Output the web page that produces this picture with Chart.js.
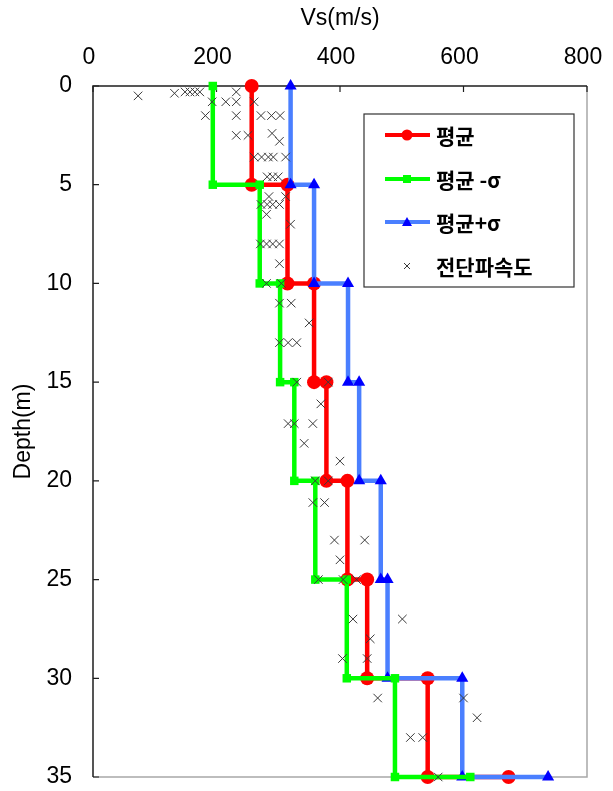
<!DOCTYPE html>
<html>
<head>
<meta charset="utf-8">
<script src="https://cdn.jsdelivr.net/npm/chart.js@4.4.1/dist/chart.umd.min.js"></script>
<style>
  html, body { margin: 0; padding: 0; background: #ffffff; overflow: hidden; }
  #wrap { width: 613px; height: 791px; position: relative; }
  canvas { display: block; }
</style>
</head>
<body>
<div id="wrap"><canvas id="c"></canvas></div>
<script>
// Layer boundaries (m) and layer-averaged shear-wave velocity profiles (m/s).
// Index i is the value for the layer starting at layerTops[i]; the last entry sits at 35 m.
const layerTops    = [0, 5, 10, 15, 20, 25, 30, 35];
const meanVs       = [257, 315, 358, 378, 412, 444, 542, 673];
const minusSigmaVs = [194, 270, 303, 326, 360, 411, 489, 611];
const plusSigmaVs  = [320, 358, 413, 431, 466, 477, 598, 737];

// Individual shear-wave velocity measurements: depth (m) and Vs (m/s), paired by index.
const sampleDepth = [
  0.3, 0.3, 0.3, 0.3, 0.3, 0.37, 0.5,
  0.8, 0.8, 0.8, 0.8,
  1.5, 1.5, 1.5, 1.5, 1.5,
  2.4, 2.5, 2.5, 2.8,
  3.6, 3.6, 3.6, 3.6, 3.6,
  4.6, 4.6, 4.6,
  5.6, 5.6,
  6.0, 6.0, 6.0, 6.0,
  6.5, 7.0,
  8.0, 8.0, 8.0, 8.0,
  9.0, 10.0, 10.0,
  11.0, 11.0, 12.0,
  13.0, 13.0, 13.0,
  15.0, 15.0, 16.1,
  17.1, 17.1, 17.1,
  18.1, 19.0, 20.0, 20.0,
  21.1, 21.1, 23.0, 23.0, 24.0,
  25.0, 25.0, 25.0,
  27.0, 27.0, 28.0, 29.0, 29.0,
  31.0, 31.0, 32.0, 33.0, 33.0, 35.0
];
const sampleVs = [
  149, 157, 165, 173, 232, 132, 73,
  193, 215, 232, 261,
  182, 232, 272, 289, 303,
  290, 232, 251, 302,
  261, 273, 284, 292, 312,
  282, 291, 300,
  285, 312,
  272, 282, 291, 302,
  281, 320,
  271, 281, 291, 302,
  302, 281, 305,
  302, 321, 350,
  302, 316, 330,
  330, 381, 369,
  316, 326, 356,
  342, 400, 360, 381,
  356, 375, 391, 440, 400,
  365, 405, 427,
  421, 501, 449, 404, 444,
  461, 600, 622, 514, 534, 559
];

// Axis ranges and labels
const vsRange    = [0, 800];
const vsStep     = 200;
const depthRange = [0, 35];
const depthStep  = 5;
const seriesNames = ['평균', '평균 -σ', '평균+σ', '전단파속도'];
const xTitle = 'Vs(m/s)';
const yTitle = 'Depth(m)';

// Turn a per-layer profile into the points of a stepped line.
function stepProfile(values) {
  const pts = [];
  for (let i = 0; i < layerTops.length - 1; i++) {
    pts.push({ x: values[i], y: layerTops[i] });
    pts.push({ x: values[i], y: layerTops[i + 1] });
  }
  const last = layerTops.length - 1;
  pts.push({ x: values[last], y: layerTops[last] });
  return pts;
}

const samplePoints = sampleDepth.map((d, i) => ({ x: sampleVs[i], y: d }));

const LATIN = "'Liberation Sans', Arial, sans-serif";
const HANGUL = "'Noto Sans CJK KR', 'Noto Sans', sans-serif";

// Plot frame with inward tick marks
const frameAndTicks = {
  id: 'frameAndTicks',
  beforeDatasetsDraw(chart) {
    const { ctx, chartArea: a, scales } = chart;
    const xs = scales.x, ys = scales.y;
    ctx.save();
    ctx.lineWidth = 1.5;
    ctx.strokeStyle = '#a8a8a8';
    ctx.beginPath();
    ctx.moveTo(a.left, a.bottom);
    ctx.lineTo(a.right, a.bottom);
    ctx.lineTo(a.right, a.top);
    ctx.stroke();
    ctx.strokeStyle = '#1e1e1e';
    ctx.beginPath();
    ctx.moveTo(a.left, a.bottom);
    ctx.lineTo(a.left, a.top);
    ctx.lineTo(a.right, a.top);
    ctx.stroke();
    ctx.lineWidth = 1.2;
    ctx.beginPath();
    xs.ticks.forEach(t => {
      const px = xs.getPixelForValue(t.value);
      ctx.moveTo(px, a.top);
      ctx.lineTo(px, a.top + 6);
    });
    ys.ticks.forEach(t => {
      const py = ys.getPixelForValue(t.value);
      ctx.moveTo(a.left, py);
      ctx.lineTo(a.left + 6, py);
    });
    ctx.stroke();
    ctx.restore();
  }
};

// Boxed legend inside the upper-right of the plot
const insideLegend = {
  id: 'insideLegend',
  afterDatasetsDraw(chart) {
    const { ctx, chartArea: a } = chart;
    const bx = a.left + 271, by = a.top + 28, bw = 210, bh = 173;
    ctx.save();
    ctx.fillStyle = '#ffffff';
    ctx.fillRect(bx, by, bw, bh);
    ctx.lineWidth = 1.2;
    ctx.strokeStyle = '#333333';
    ctx.strokeRect(bx, by, bw, bh);
    const rowY = [21, 65, 108, 152];
    chart.data.datasets.forEach((ds, i) => {
      const cy = by + rowY[i];
      const x0 = bx + 21, x1 = bx + 66, mx = bx + 43;
      if (ds.showLine) {
        ctx.strokeStyle = ds.borderColor;
        ctx.lineWidth = 4;
        ctx.beginPath();
        ctx.moveTo(x0, cy);
        ctx.lineTo(x1, cy);
        ctx.stroke();
      }
      ctx.fillStyle = ds.pointBackgroundColor;
      ctx.strokeStyle = ds.pointBorderColor;
      if (ds.pointStyle === 'circle') {
        ctx.beginPath();
        ctx.arc(mx, cy, 5.5, 0, Math.PI * 2);
        ctx.fill();
      } else if (ds.pointStyle === 'rect') {
        ctx.fillRect(mx - 4, cy - 4, 8, 8);
      } else if (ds.pointStyle === 'triangle') {
        ctx.beginPath();
        ctx.moveTo(mx, cy - 5);
        ctx.lineTo(mx + 5, cy + 4);
        ctx.lineTo(mx - 5, cy + 4);
        ctx.closePath();
        ctx.fill();
      } else {
        ctx.lineWidth = 1;
        ctx.beginPath();
        ctx.moveTo(mx - 3, cy - 3); ctx.lineTo(mx + 3, cy + 3);
        ctx.moveTo(mx + 3, cy - 3); ctx.lineTo(mx - 3, cy + 3);
        ctx.stroke();
      }
      ctx.fillStyle = '#000000';
      ctx.font = 'bold 21px ' + HANGUL;
      ctx.textAlign = 'left';
      ctx.textBaseline = 'middle';
      ctx.fillText(ds.label, bx + 72, cy + 1);
    });
    ctx.restore();
  }
};

function profileDataset(label, values, lineColor, markerColor, style, radius, order) {
  return {
    label,
    data: stepProfile(values),
    showLine: true,
    borderColor: lineColor,
    borderWidth: 4.5,
    backgroundColor: markerColor,
    pointBackgroundColor: markerColor,
    pointBorderColor: markerColor,
    pointBorderWidth: 0,
    pointStyle: style,
    pointRadius: radius,
    pointHoverRadius: radius,
    tension: 0,
    clip: false,
    order
  };
}

new Chart(document.getElementById('c'), {
  type: 'scatter',
  data: {
    datasets: [
      profileDataset(seriesNames[0], meanVs, '#ff0000', '#ff0000', 'circle', 7, 4),
      profileDataset(seriesNames[1], minusSigmaVs, '#00ff00', '#00ff00', 'rect', 6, 2),
      profileDataset(seriesNames[2], plusSigmaVs, '#4a7fff', '#0000ff', 'triangle', 7, 3),
      {
        label: seriesNames[3],
        data: samplePoints,
        showLine: false,
        pointStyle: 'crossRot',
        pointRadius: 6,
        pointHoverRadius: 6,
        pointBorderWidth: 1,
        pointBorderColor: '#3a3a3a',
        pointBackgroundColor: '#3a3a3a',
        borderColor: '#3a3a3a',
        clip: false,
        order: 1
      }
    ]
  },
  options: {
    responsive: true,
    maintainAspectRatio: false,
    animation: false,
    events: [],
    layout: { padding: { left: 0, top: 0, right: 26, bottom: 14 } },
    plugins: { legend: { display: false }, tooltip: { enabled: false } },
    scales: {
      x: {
        type: 'linear',
        position: 'top',
        min: vsRange[0],
        max: vsRange[1],
        grid: { display: false, drawTicks: false },
        border: { display: false },
        ticks: {
          stepSize: vsStep,
          padding: 15,
          labelOffset: -4,
          color: '#000000',
          font: { family: LATIN, size: 23 }
        },
        title: {
          display: true,
          text: xTitle,
          color: '#000000',
          font: { family: LATIN, size: 23 },
          padding: { top: 5, bottom: 0 }
        },
        afterFit(scale) {
          scale.height = 86;
          scale.paddingLeft = 0;
          scale.paddingRight = 0;
        }
      },
      y: {
        type: 'linear',
        reverse: true,
        min: depthRange[0],
        max: depthRange[1],
        grid: { display: false, drawTicks: false },
        border: { display: false },
        ticks: {
          stepSize: depthStep,
          padding: 21,
          color: '#000000',
          font: { family: LATIN, size: 23 }
        },
        title: {
          display: true,
          text: yTitle,
          color: '#000000',
          font: { family: LATIN, size: 23 },
          padding: { top: 10, bottom: 0 }
        },
        afterFit(scale) {
          scale.width = 93;
          scale.paddingTop = 0;
          scale.paddingBottom = 0;
        }
      }
    }
  },
  plugins: [frameAndTicks, insideLegend]
});
</script>
</body>
</html>
